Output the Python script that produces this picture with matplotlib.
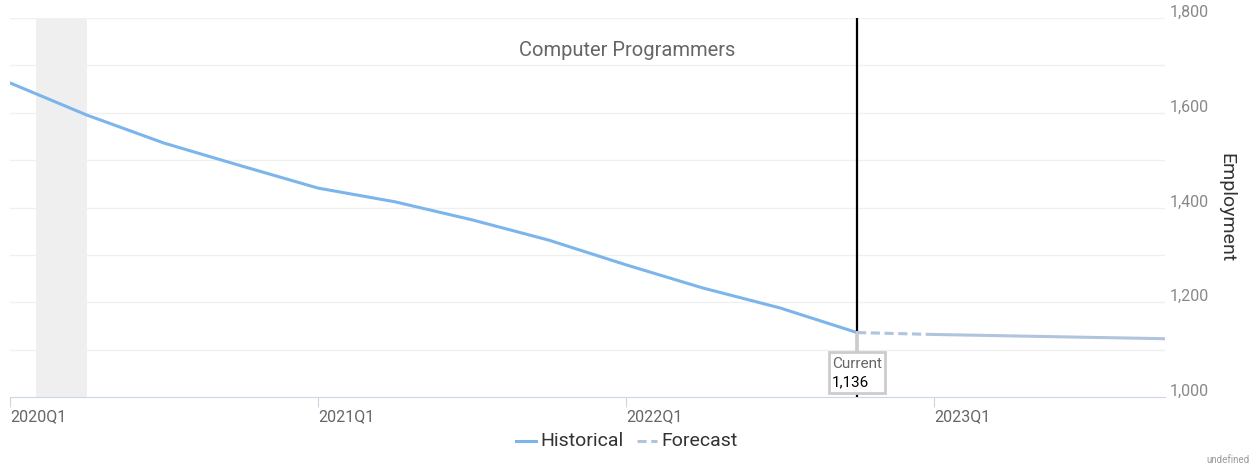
import matplotlib.pyplot as plt

hist_quarters = ["2020Q1", "2020Q2", "2020Q3", "2020Q4",
                 "2021Q1", "2021Q2", "2021Q3", "2021Q4",
                 "2022Q1", "2022Q2", "2022Q3", "2022Q4"]
hist_values = [1663, 1595, 1536, 1488, 1441, 1412, 1374, 1331, 1279, 1230, 1188, 1136]

fc_quarters = ["2022Q4", "2023Q1", "2023Q2", "2023Q3", "2023Q4"]
fc_values = [1136, 1132, 1129, 1126, 1123]

all_quarters = hist_quarters + fc_quarters[1:]
tick_labels = ["2020Q1", "2021Q1", "2022Q1", "2023Q1"]
y_ticks = [1000, 1200, 1400, 1600, 1800]

recession = (1 / 3, 1.0)  # Feb 2020 - Apr 2020 in quarter units
current_q = "2022Q4"
current_value = 1136

plt.rcParams["font.family"] = ["Roboto", "DejaVu Sans"]

W, H = 1253, 467
fig = plt.figure(figsize=(W / 100, H / 100), dpi=100)
ax = fig.add_axes([10 / W, 70 / H, 1155 / W, 379 / H])

pos = {q: i for i, q in enumerate(all_quarters)}
hx = [pos[q] for q in hist_quarters]
fx = [pos[q] for q in fc_quarters]

ax.axvspan(recession[0], recession[1], color="#efefef", lw=0, zorder=0)

ax.set_ylim(1000, 1800)
ax.set_xlim(0, len(all_quarters) - 1)
for v in range(1100, 1801, 100):
    ax.axhline(v, color="#f0f0f0", lw=1, zorder=0.5)

ax.plot(hx, hist_values, color="#7cb5ec", lw=2.2, zorder=3, solid_capstyle="round")
ax.plot(fx[:2], fc_values[:2], color="#b0c4de", lw=2.2, ls=(0, (3, 1.5)), zorder=3)
ax.plot(fx[1:], fc_values[1:], color="#b0c4de", lw=2.2, zorder=3)

cx = pos[current_q]
ax.axvline(cx, color="black", lw=1.6, zorder=4)

# current value label box
ax.annotate("", xy=(cx, current_value), xytext=(0, -19), textcoords="offset pixels",
            arrowprops=dict(arrowstyle="-", color="#cccccc", lw=2.5, shrinkA=0, shrinkB=0),
            zorder=5)
ax.add_patch(plt.Rectangle((829 / W, (467 - 393) / H), 56 / W, 41 / H,
                           facecolor="white", edgecolor="#cccccc", lw=2,
                           transform=fig.transFigure, zorder=5, clip_on=False))
fig.text(832 / W, 1 - 364 / H, "Current", ha="left", va="center", fontsize=11,
         color="#666666", zorder=6)
fig.text(832 / W, 1 - 382 / H, "1,136", ha="left", va="center", fontsize=11,
         color="black", zorder=6)

for s in ["top", "left", "right"]:
    ax.spines[s].set_visible(False)
ax.spines["bottom"].set_color("#ccd6eb")
ax.set_yticks([])
ax.set_xticks([pos[t] for t in tick_labels])
ax.set_xticklabels(tick_labels, ha="left", fontsize=11.5, color="#666666")
ax.tick_params(axis="x", length=7, color="#ccd6eb", pad=2)

for v in y_ticks:
    ax.annotate(f"{v:,}", xy=(1, v), xycoords=("axes fraction", "data"),
                xytext=(5, -2), textcoords="offset pixels", ha="left", va="bottom",
                fontsize=11.5, color="#888888", annotation_clip=False)

fig.text(1226 / W, 1 - 208 / H, "Employment", rotation=-90, ha="center", va="center",
         fontsize=14, color="#333333")
fig.text(627 / W, 1 - 51 / H, "Computer Programmers", ha="center", va="center",
         fontsize=14.5, color="#666666")

# legend
fig.lines.append(plt.Line2D([516 / W, 536 / W], [1 - 441 / H] * 2, color="#7cb5ec", lw=2.2,
                            transform=fig.transFigure))
fig.text(540 / W, 1 - 441 / H, "Historical", ha="left", va="center", fontsize=14, color="#333333")
fig.lines.append(plt.Line2D([637 / W, 657 / W], [1 - 441 / H] * 2, color="#b0c4de", lw=2.2,
                            ls=(0, (3, 1.5)), transform=fig.transFigure))
fig.text(661 / W, 1 - 441 / H, "Forecast", ha="left", va="center", fontsize=14, color="#333333")

fig.text(1250 / W, 1 - 460 / H, "undefined", ha="right", va="center", fontsize=7, color="#999999")

fig.savefig("out.png", dpi=100)
